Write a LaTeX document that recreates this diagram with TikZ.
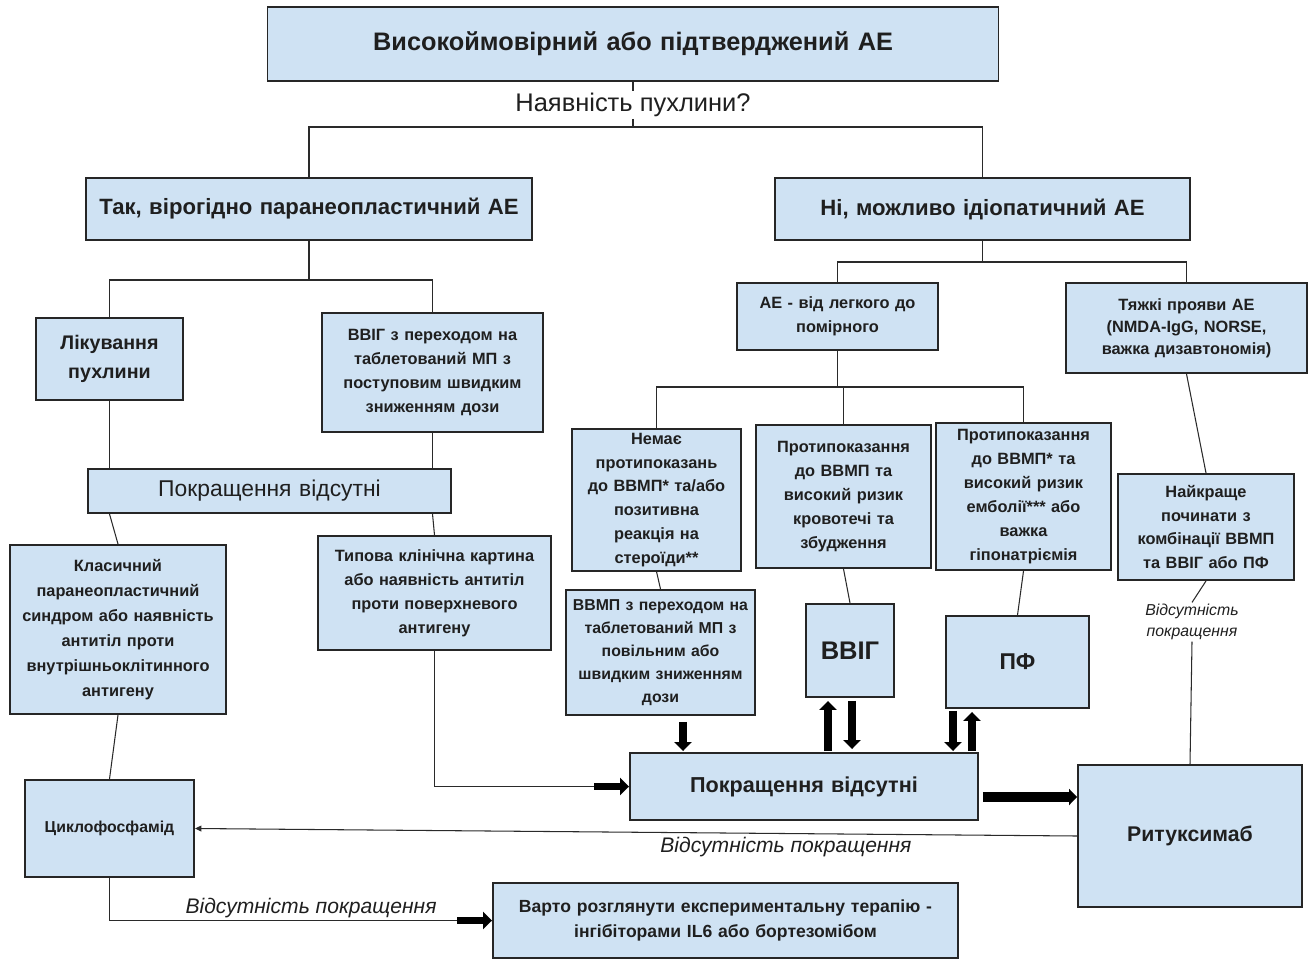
\documentclass[tikz,border=0pt]{standalone}
\usepackage{fontspec}
\setmainfont{Liberation Sans}
\usetikzlibrary{arrows.meta, positioning, calc}
\definecolor{cInk}{HTML}{1f1f1f}
\definecolor{cEdge}{HTML}{262626}
\definecolor{cFill}{HTML}{cfe2f3}
\definecolor{cLine}{HTML}{2a2a2a}
\tikzset{
  box/.style 2 args={draw=cEdge, line width=1.1pt, fill=cFill, inner xsep=0pt, inner ysep=2pt,
      align=center, text=cInk, text width=#1, minimum height=#2,
      font=\bfseries\fontsize{9.3}{13.6}\selectfont},
  flow/.style={draw=cLine, line width=0.6pt},
  fatarrow/.style={draw=black, line width=4.3pt, -{Triangle[length=1.8mm,width=3.4mm]}},
  fatterarrow/.style={draw=black, line width=5.6pt, -{Triangle[length=1.6mm,width=3.2mm]}},
  backarrow/.style={draw=cLine, line width=0.6pt, -{Triangle[length=1.3mm,width=1.2mm]}},
  remark/.style={font=\itshape\fontsize{12}{14}\selectfont, text=cInk, inner sep=1pt},
}
\newcommand{\lvltwo}{\bfseries\fontsize{12.6}{15}\selectfont}
\newcommand{\lvlone}{\bfseries\fontsize{14.4}{17}\selectfont}

\begin{document}
\begin{tikzpicture}
\useasboundingbox (0,0) rectangle (26.22,19.24);

% ===================== top =====================
\node[box={14.62cm}{1.48cm}, font=\lvlone] (root) at (12.66,18.36) {Високоймовірний або підтверджений АЕ};
\node[font=\fontsize{14.5}{17}\selectfont, text=cInk, inner sep=1pt] (tumorq) at (12.66,17.14) {Наявність пухлини?};
\coordinate (split0) at (12.66,16.70);

\node[box={8.92cm}{1.24cm}, font=\lvltwo] (yes) at (6.18,15.06) {Так, вірогідно паранеопластичний АЕ};
\node[box={8.30cm}{1.24cm}, font=\lvltwo] (no) at (19.65,15.06) {Ні, можливо ідіопатичний АЕ};

\draw[flow] (root.south) -- (tumorq.north);
\draw[flow] (tumorq.south) -- (split0);
\draw[flow] (yes.north) |- (split0) -| (no.north);

% ===================== left branch =====================
\coordinate (split1) at (6.18,13.64);
\node[box={2.94cm}{1.64cm}, font=\bfseries\fontsize{11.2}{16.5}\selectfont] (tumor) at (2.19,12.06) {Лікування\\пухлини};
\node[box={4.42cm}{2.38cm}] (ivigA) at (8.65,11.79)
     {ВВІГ з переходом на\\таблетований МП з\\поступовим швидким\\зниженням дози};
\node[box={7.26cm}{0.88cm}, font=\fontsize{13}{15}\selectfont] (noimpA) at (5.39,9.42) {Покращення відсутні};
\node[box={4.32cm}{3.38cm}, font=\bfseries\fontsize{9.3}{14.2}\selectfont] (classic) at (2.36,6.65)
     {Класичний\\паранеопластичний\\синдром або наявність\\антитіл проти\\внутрішньоклітинного\\антигену};
\node[box={4.66cm}{2.28cm}] (typical) at (8.69,7.38)
     {Типова клінічна картина\\або наявність антитіл\\проти поверхневого\\антигену};
\node[box={3.38cm}{1.94cm}, font=\bfseries\fontsize{9}{13}\selectfont] (cyclo) at (2.19,2.67) {Циклофосфамід};
\node[box={9.30cm}{1.50cm}, font=\bfseries\fontsize{10}{14}\selectfont] (exper) at (14.51,0.83)
     {Варто розглянути експериментальну терапію -\\інгібіторами IL6 або бортезомібом};

\draw[flow] (yes.south) -- (split1);
\draw[flow] (tumor.north) |- (split1) -| (ivigA.north);
\draw[flow] (tumor.south) -- (tumor.south |- noimpA.north);
\draw[flow] (tumor.south |- noimpA.south) -- (classic.north);
\draw[flow] (ivigA.south) -- (ivigA.south |- noimpA.north);
\draw[flow] (ivigA.south |- noimpA.south) -- (typical.north);
\draw[flow] (classic.south) -- (cyclo.north);

% ===================== right branch =====================
\coordinate (split2) at (19.65,14.00);
\node[box={4.02cm}{1.34cm}] (mild) at (16.75,12.91) {АЕ - від легкого до\\помірного};
\node[box={4.82cm}{1.80cm}, font=\bfseries\fontsize{9.3}{12.6}\selectfont] (severe) at (23.73,12.68)
     {Тяжкі прояви АЕ\\(NMDA-IgG, NORSE,\\важка дизавтономія)};
\coordinate (split3) at (16.75,11.50);
\node[box={3.38cm}{2.80cm}] (nocontra) at (13.13,9.24)
     {Немає\\протипоказань\\до ВВМП* та/або\\позитивна\\реакція на\\стероїди**};
\node[box={3.50cm}{2.86cm}] (contraA) at (16.87,9.31)
     {Протипоказання\\до ВВМП та\\високий ризик\\кровотечі та\\збудження};
\node[box={3.50cm}{2.94cm}] (contraB) at (20.47,9.31)
     {Протипоказання\\до ВВМП* та\\високий ризик\\емболії*** або\\важка\\гіпонатріємія};
\node[box={3.52cm}{2.12cm}] (best) at (24.12,8.70)
     {Найкраще\\починати з\\комбінації ВВМП\\та ВВІГ або ПФ};
\node[box={3.78cm}{2.50cm}, font=\bfseries\fontsize{9}{13}\selectfont] (ivmp) at (13.21,6.19)
     {ВВМП з переходом на\\таблетований МП з\\повільним або\\швидким зниженням\\дози};
\node[box={1.76cm}{1.86cm}, font=\bfseries\fontsize{14.5}{17}\selectfont] (ivig) at (17.00,6.23) {ВВІГ};
\node[box={2.86cm}{1.84cm}, font=\bfseries\fontsize{13}{15}\selectfont] (pf) at (20.35,6.00) {ПФ};
\node[remark, font=\itshape\fontsize{9}{11.5}\selectfont, align=center] (nobest) at (23.84,6.80)
     {Відсутність\\покращення};
\node[box={6.96cm}{1.34cm}, font=\bfseries\fontsize{12.3}{15}\selectfont] (noimpB) at (16.08,3.51) {Покращення відсутні};
\node[box={4.48cm}{2.84cm}, font=\bfseries\fontsize{12.1}{15}\selectfont] (ritux) at (23.80,2.52) {Ритуксимаб};

\draw[flow] (no.south) -- (split2);
\draw[flow] (mild.north) |- (split2) -| (severe.north);
\draw[flow] (mild.south) -- (split3);
\draw[flow] (nocontra.north) |- (split3) -| (contraB.north);
\draw[flow] (split3) -| (contraA.north);
\draw[flow] (nocontra.south) -- (ivmp.north);
\draw[flow] (contraA.south) -- (ivig.north);
\draw[flow] (contraB.south) -- (pf.north);
\draw[flow] (severe.south) -- (best.north);
\draw[flow] (best.south) -- (nobest.north);
\draw[flow] (nobest.south) -- (ritux.north);

% ===================== thick arrows round the lower box =====================
\coordinate (intoB) at ($(noimpB.west)+(-0.70,0)$);
\draw[flow] (typical.south) |- (intoB);
\draw[fatarrow] (intoB) -- (noimpB.west);

\draw[fatarrow] ($(ivmp.south)+(0.45,-0.12)$) -- ($(ivmp.south |- noimpB.north)+(0.45,0.02)$);
\draw[fatarrow] ($(noimpB.north -| ivig.south)+(-0.44,0.02)$) -- ($(ivig.south)+(-0.44,-0.06)$);
\draw[fatarrow] ($(ivig.south)+(0.04,-0.06)$) -- ($(noimpB.north -| ivig.south)+(0.04,0.06)$);
\draw[fatarrow] ($(pf.south)+(-1.29,-0.04)$) -- ($(noimpB.north -| pf.south)+(-1.29,0.02)$);
\draw[fatarrow] ($(noimpB.north -| pf.south)+(-0.91,0.02)$) -- ($(pf.south)+(-0.91,-0.06)$);
\draw[fatterarrow] ($(noimpB.east)+(0.08,-0.21)$) -- ($(noimpB.east -| ritux.west)+(0,-0.21)$);

% ===================== way back to the left =====================
\draw[backarrow] (ritux.west) -- node[remark, pos=0.33, below=1pt] (noteC) {Відсутність покращення} (cyclo.east);

\coordinate (intoE) at ($(exper.west)+(-0.70,0)$);
\draw[flow] (cyclo.south) |- node[remark, pos=0.79, above=0pt] (noteA) {Відсутність покращення} (intoE);
\draw[fatarrow] (intoE) -- (exper.west);

\end{tikzpicture}
\end{document}
